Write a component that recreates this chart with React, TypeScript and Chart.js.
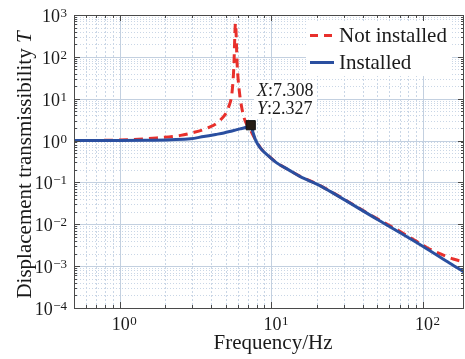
import React, { useEffect, useRef } from 'react';
import { Chart, registerables } from 'chart.js';

Chart.register(...registerables);

// ---- data ----
const freqNotInstalled = [0.5, 1, 1.65, 2.52, 2.93, 3.78, 4.62, 5.24, 5.51, 5.65, 5.8, 5.95, 6.1, 6.42, 6.74, 7.3, 7.65, 8.0, 8.47, 9.5, 10.9, 13, 15.5, 21, 24.4, 50, 70.6, 88.6, 105.7, 129, 158, 186];
const tNotInstalled = [1.0, 1.03, 1.14, 1.33, 1.5, 1.98, 3.12, 6.5, 14.8, 53, 634, 64, 19.5, 5.4, 2.84, 1.75, 1.25, 0.95, 0.67, 0.445, 0.292, 0.2, 0.14, 0.084, 0.062, 0.0135, 0.0067, 0.0041, 0.00279, 0.00198, 0.00148, 0.00127];

const freqInstalled = [0.5, 1, 1.5, 2.17, 2.93, 3.58, 4.3, 4.86, 5.5, 6.2, 6.74, 7.308, 7.55, 7.85, 8.47, 9.5, 10.9, 13, 15.5, 21, 24.4, 50, 100, 150, 186];
const tInstalled = [1.0, 1.005, 1.02, 1.05, 1.1, 1.25, 1.4, 1.52, 1.7, 1.9, 2.05, 2.327, 1.6, 1.04, 0.66, 0.44, 0.289, 0.2, 0.138, 0.083, 0.061, 0.013, 0.00295, 0.00117, 0.00073];

const peakX = 7.308;
const peakY = 2.327;

const seriesNames = ['Not installed', 'Installed'];
const seriesColors = ['#e8302c', '#2a4fa0'];
const xTickExponents = [0, 1, 2];
const yTickExponents = [-4, -3, -2, -1, 0, 1, 2, 3];
const xTitle = 'Frequency/Hz';
const yTitle = 'Displacement transmissibility ';
const yTitleItalic = 'T';

const FONT = "'Liberation Serif', 'Times New Roman', serif";

function supText(e: number) {
  return e < 0 ? '\u2212' + String(-e) : String(e);
}

function drawPow(ctx: CanvasRenderingContext2D, e: number, x: number, baseline: number, mode: 'center' | 'right') {
  ctx.font = `18px ${FONT}`;
  const w1 = ctx.measureText('10').width;
  ctx.font = `13px ${FONT}`;
  const s = supText(e);
  const w2 = ctx.measureText(s).width;
  const total = w1 + w2 + 0.5;
  const left = mode === 'center' ? x - total / 2 : x - total;
  ctx.textAlign = 'left';
  ctx.textBaseline = 'alphabetic';
  ctx.font = `18px ${FONT}`;
  ctx.fillText('10', left, baseline);
  ctx.font = `13px ${FONT}`;
  ctx.fillText(s, left + w1 + 0.5, baseline - 5);
}

function minorValues(min: number, max: number) {
  const out: { v: number; major: boolean }[] = [];
  for (let e = Math.floor(Math.log10(min)); e <= Math.ceil(Math.log10(max)); e++) {
    for (let m = 1; m <= 9; m++) {
      const v = m * Math.pow(10, e);
      if (v < min * 0.999 || v > max * 1.001) continue;
      out.push({ v, major: m === 1 });
    }
  }
  return out;
}

const matlabPlugin = {
  id: 'matlabLook',
  beforeDatasetsDraw(chart: any) {
    const { ctx, chartArea: a, scales } = chart;
    const xs = scales.x;
    const ys = scales.y;
    ctx.save();
    ctx.lineWidth = 1;
    for (const t of minorValues(xs.min, xs.max)) {
      const px = Math.round(xs.getPixelForValue(t.v)) + 0.5;
      if (px <= a.left + 1 || px >= a.right - 1) continue;
      ctx.beginPath();
      if (t.major) {
        ctx.setLineDash([]);
        ctx.strokeStyle = '#c3d0e0';
      } else {
        ctx.setLineDash([2, 2]);
        ctx.strokeStyle = '#c9d6e6';
      }
      ctx.moveTo(px, a.top);
      ctx.lineTo(px, a.bottom);
      ctx.stroke();
    }
    for (const t of minorValues(ys.min, ys.max)) {
      const py = Math.round(ys.getPixelForValue(t.v)) + 0.5;
      if (py <= a.top + 1 || py >= a.bottom - 1) continue;
      ctx.beginPath();
      if (t.major) {
        ctx.setLineDash([]);
        ctx.strokeStyle = '#c3d0e0';
      } else {
        ctx.setLineDash([1, 2]);
        ctx.strokeStyle = '#c9d6e6';
      }
      ctx.moveTo(a.left, py);
      ctx.lineTo(a.right, py);
      ctx.stroke();
    }
    ctx.restore();
  },
  afterDraw(chart: any) {
    const { ctx, chartArea: a, scales } = chart;
    const xs = scales.x;
    const ys = scales.y;
    ctx.save();
    ctx.setLineDash([]);
    ctx.fillStyle = '#ffffff';
    ctx.fillRect(306, a.top + 6, 146, 55);
    ctx.fillRect(254, 80, 63, 38);

    ctx.strokeStyle = '#4a4a4a';
    ctx.lineWidth = 1;
    ctx.strokeRect(Math.round(a.left) + 0.5, Math.round(a.top) + 0.5, Math.round(a.right - a.left) - 1, Math.round(a.bottom - a.top));
    ctx.beginPath();
    for (const t of minorValues(xs.min, xs.max)) {
      const px = Math.round(xs.getPixelForValue(t.v)) + 0.5;
      const len = t.major ? 6 : 3;
      ctx.moveTo(px, a.bottom);
      ctx.lineTo(px, a.bottom - len);
      ctx.moveTo(px, a.top);
      ctx.lineTo(px, a.top + len);
    }
    for (const t of minorValues(ys.min, ys.max)) {
      const py = Math.round(ys.getPixelForValue(t.v)) + 0.5;
      const len = t.major ? 6 : 3;
      ctx.moveTo(a.left, py);
      ctx.lineTo(a.left + len, py);
      ctx.moveTo(a.right, py);
      ctx.lineTo(a.right - len, py);
    }
    ctx.stroke();

    ctx.fillStyle = '#1a1a1a';
    for (const e of xTickExponents) {
      const px = xs.getPixelForValue(Math.pow(10, e));
      drawPow(ctx, e, px + 4.5, a.bottom + 22, 'center');
    }
    for (const e of yTickExponents) {
      const py = ys.getPixelForValue(Math.pow(10, e));
      drawPow(ctx, e, a.left - 7, py + 7, 'right');
    }

    ctx.fillStyle = '#1a1a1a';
    ctx.font = `21px ${FONT}`;
    ctx.textAlign = 'center';
    ctx.textBaseline = 'alphabetic';
    ctx.fillText(xTitle, (a.left + a.right) / 2 + 4, 349);

    ctx.save();
    ctx.translate(31, 165);
    ctx.rotate(-Math.PI / 2);
    ctx.font = `21px ${FONT}`;
    const w1 = ctx.measureText(yTitle).width;
    ctx.font = `italic 21px ${FONT}`;
    const w2 = ctx.measureText(yTitleItalic).width;
    const start = -(w1 + w2) / 2;
    ctx.textAlign = 'left';
    ctx.font = `21px ${FONT}`;
    ctx.fillText(yTitle, start, 0);
    ctx.font = `italic 21px ${FONT}`;
    ctx.fillText(yTitleItalic, start + w1, 0);
    ctx.restore();

    const rows = [35, 62];
    seriesNames.forEach((name, i) => {
      const y = rows[i];
      ctx.beginPath();
      ctx.strokeStyle = seriesColors[i];
      ctx.lineWidth = 3;
      ctx.setLineDash(i === 0 ? [8, 6] : []);
      ctx.moveTo(310, y + 0.5);
      ctx.lineTo(334, y + 0.5);
      ctx.stroke();
      ctx.setLineDash([]);
      ctx.fillStyle = '#1a1a1a';
      ctx.font = `21px ${FONT}`;
      ctx.textAlign = 'left';
      ctx.textBaseline = 'middle';
      ctx.fillText(name, 339, y + 1);
    });

    const lines: [string, string][] = [['X', ':' + peakX.toFixed(3)], ['Y', ':' + peakY.toFixed(3)]];
    lines.forEach(([ital, rest], i) => {
      const y = i === 0 ? 96 : 114;
      ctx.textBaseline = 'alphabetic';
      ctx.textAlign = 'left';
      ctx.font = `italic 18px ${FONT}`;
      const wi = ctx.measureText(ital).width;
      ctx.fillText(ital, 257, y);
      ctx.font = `18px ${FONT}`;
      ctx.fillText(rest, 257 + wi, y);
    });
    ctx.restore();
  },
};

export default function App() {
  const canvasRef = useRef<HTMLCanvasElement | null>(null);

  useEffect(() => {
    const canvas = canvasRef.current;
    if (!canvas) return;
    const chart = new Chart(canvas, {
      type: 'scatter',
      data: {
        datasets: [
          {
            label: seriesNames[0],
            data: freqNotInstalled.map((f, i) => ({ x: f, y: tNotInstalled[i] })),
            showLine: true,
            borderColor: seriesColors[0],
            borderWidth: 3,
            borderDash: [9, 6],
            pointRadius: 0,
            cubicInterpolationMode: 'monotone',
            order: 2,
          },
          {
            label: seriesNames[1],
            data: freqInstalled.map((f, i) => ({ x: f, y: tInstalled[i] })),
            showLine: true,
            borderColor: seriesColors[1],
            borderWidth: 3,
            pointRadius: 0,
            cubicInterpolationMode: 'monotone',
            order: 1,
          },
          {
            label: 'peak',
            data: [{ x: peakX, y: peakY }],
            showLine: false,
            pointStyle: 'rect',
            pointRadius: 6.5,
            backgroundColor: '#261d15',
            borderColor: '#111111',
            borderWidth: 1,
            order: 0,
          },
        ],
      },
      options: {
        responsive: false,
        animation: false,
        layout: { autoPadding: false, padding: { top: 15, right: 1, left: 0, bottom: 0 } },
        plugins: {
          legend: { display: false },
          tooltip: { enabled: false },
        },
        scales: {
          x: {
            type: 'logarithmic',
            min: 0.5,
            max: 186,
            grid: { display: false },
            border: { display: false },
            ticks: { display: false },
            afterFit: (s: any) => {
              s.height = 51;
            },
          },
          y: {
            type: 'logarithmic',
            min: 1e-4,
            max: 1e3,
            grid: { display: false },
            border: { display: false },
            ticks: { display: false },
            afterFit: (s: any) => {
              s.width = 74;
            },
          },
        },
      },
      plugins: [matlabPlugin],
    } as any);
    return () => chart.destroy();
  }, []);

  return (
    <div style={{ position: 'absolute', left: 0, top: 0, width: 465, height: 359, background: '#ffffff' }}>
      <canvas ref={canvasRef} width={465} height={359} style={{ display: 'block' }} />
    </div>
  );
}
